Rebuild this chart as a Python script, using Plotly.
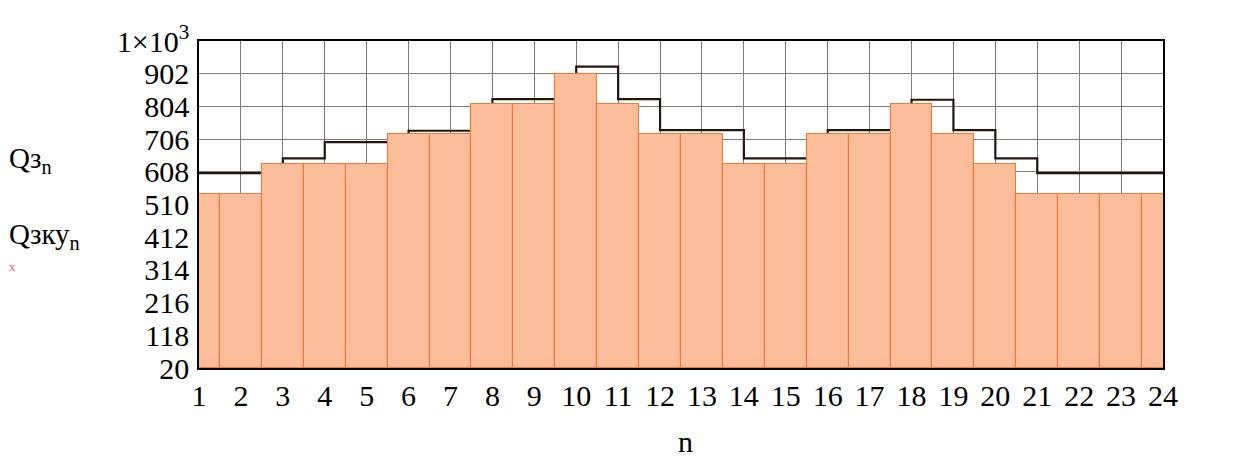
import plotly.graph_objects as go

# ---- data ----
hours = list(range(1, 25))
q3 = [604, 604, 648, 697, 697, 731, 731, 826, 826, 923, 826, 733,
      733, 648, 648, 733, 733, 824, 733, 648, 604, 604, 604, 604]
q3ku = [541, 541, 632, 632, 632, 722, 722, 811, 811, 902, 811, 722,
        722, 632, 632, 722, 722, 811, 722, 632, 541, 541, 541, 541]
y_ticks = [20, 118, 216, 314, 412, 510, 608, 706, 804, 902, 1000]
y_tick_text = ["20", "118", "216", "314", "412", "510", "608", "706",
               "804", "902", "1×10<sup>3</sup>"]
x_ticks = hours
x_tick_text = [str(h) for h in hours]

FONT = "Liberation Serif, Times New Roman, serif"
OFF = 8  # page body margin of the browser
W, H = 1246 - OFF, 462 - OFF
# plot area in reference pixels: x 199..1163, y 32..368
L, T = 199 - OFF, 32 - OFF
PW, PH = 964, 336
R, B = W - L - PW, H - T - PH


def px_x(p):
    return (p - OFF - L) / PW


def px_y(p):
    return (T + PH - (p - OFF)) / PH


fig = go.Figure()

# black step trace (drawn under the bars)
fig.add_trace(go.Scatter(
    x=hours, y=q3, mode="lines", line=dict(shape="hv", color="#231510", width=2.2),
    xaxis="x", yaxis="y", hoverinfo="skip", showlegend=False))

# orange bar trace on overlaying axes so it sits above the step line
fig.add_trace(go.Bar(
    x=hours, y=[v - 20 for v in q3ku], base=20, width=1,
    marker=dict(color="#FCBD9A", line=dict(color="#F27A30", width=1.1)),
    xaxis="x2", yaxis="y2", hoverinfo="skip", showlegend=False))

axis_font = dict(family=FONT, size=30, color="black")

fig.update_layout(
    width=W, height=H,
    margin=dict(l=L, r=R, t=T, b=B, pad=0),
    paper_bgcolor="white", plot_bgcolor="white",
    showlegend=False, bargap=0,
    xaxis=dict(range=[1, 24], tickmode="array", tickvals=x_ticks, ticktext=x_tick_text,
               showgrid=True, gridcolor="#7c7c7c", gridwidth=1.4,
               showline=True, linecolor="black", linewidth=1.6, mirror=True,
               zeroline=False, ticks="", tickfont=axis_font, ticklabelstandoff=0),
    yaxis=dict(range=[20, 1000], tickmode="array", tickvals=y_ticks, ticktext=y_tick_text,
               showgrid=True, gridcolor="#7c7c7c", gridwidth=1.4,
               showline=True, linecolor="black", linewidth=1.6, mirror=True,
               zeroline=False, ticks="", tickfont=axis_font, ticklabelstandoff=2),
    xaxis2=dict(range=[1, 24], overlaying="x", visible=False, showgrid=False),
    yaxis2=dict(range=[20, 1000], overlaying="y", visible=False, showgrid=False),
)

ann_font = dict(family=FONT, size=29, color="black")
fig.add_annotation(xref="paper", yref="paper", x=px_x(7), y=px_y(154),
                   xanchor="left", yanchor="middle", showarrow=False,
                   text="Qз<sub>n</sub>", font=ann_font)
fig.add_annotation(xref="paper", yref="paper", x=px_x(7), y=px_y(232),
                   xanchor="left", yanchor="middle", showarrow=False,
                   text="Qзку<sub>n</sub>", font=ann_font)
fig.add_annotation(xref="paper", yref="paper", x=px_x(12), y=px_y(264),
                   xanchor="center", yanchor="middle", showarrow=False,
                   text="x", font=dict(family=FONT, size=13, color="#e06060"))
fig.add_annotation(xref="paper", yref="paper", x=px_x(685), y=px_y(444),
                   xanchor="center", yanchor="middle", showarrow=False,
                   text="n", font=dict(family=FONT, size=30, color="black"))

fig.write_html("out.html")
